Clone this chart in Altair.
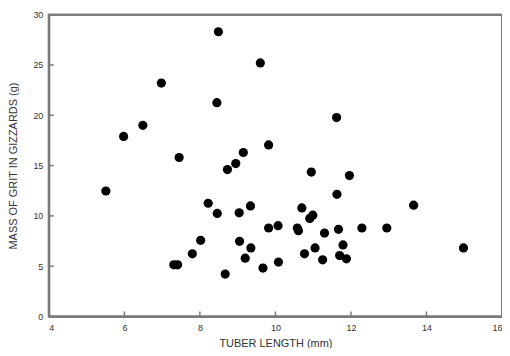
import altair as alt
import pandas as pd

tuber_length = [8.49, 6.98, 8.45, 5.98, 6.49, 7.45, 8.73, 8.95, 9.15, 9.60,
                11.62, 9.82, 10.95, 11.96, 5.51, 8.22, 8.46, 9.04, 9.34, 8.02,
                7.80, 7.31, 7.41, 8.67, 9.05, 9.35, 9.20, 11.63, 13.66, 10.70,
                10.99, 10.91, 9.82, 10.07, 10.58, 10.61, 11.30, 11.67, 12.29, 12.95,
                11.79, 11.05, 10.77, 11.70, 11.88, 11.25, 14.98, 9.67, 10.08]
grit_mass = [28.3, 23.2, 21.25, 17.9, 19.0, 15.8, 14.6, 15.2, 16.3, 25.2,
             19.77, 17.05, 14.35, 14.0, 12.47, 11.25, 10.24, 10.3, 10.99, 7.57,
             6.22, 5.13, 5.13, 4.21, 7.47, 6.81, 5.79, 12.14, 11.06, 10.79,
             10.07, 9.74, 8.79, 9.02, 8.79, 8.53, 8.29, 8.66, 8.79, 8.79,
             7.11, 6.81, 6.22, 6.05, 5.73, 5.63, 6.81, 4.81, 5.40]

x_ticks = [4, 6, 8, 10, 12, 14, 16]
y_ticks = [0, 5, 10, 15, 20, 25, 30]
frame_x = [4, 16]
frame_y = [0, 30]

df = pd.DataFrame({"x": tuber_length, "y": grit_mass})
xt = pd.DataFrame({"t": x_ticks})
yt = pd.DataFrame({"t": y_ticks})
fr = pd.DataFrame({"x1": [frame_x[0]], "x2": [frame_x[1]], "y1": [frame_y[0]], "y2": [frame_y[1]]})

FONT = "Liberation Sans"
GRAY = "#7a7a7a"

xscale = alt.Scale(domain=[4, 16], nice=False, zero=False)
yscale = alt.Scale(domain=[0, 30], nice=False)

frame = alt.Chart(fr).mark_rect(
    filled=False, stroke=GRAY, strokeWidth=2, strokeOpacity=1
).encode(
    x=alt.X("x1:Q", scale=xscale), x2="x2:Q",
    y=alt.Y("y1:Q", scale=yscale), y2="y2:Q",
)

points = alt.Chart(df).mark_circle(size=85, color="black", opacity=1).encode(
    x=alt.X("x:Q", scale=xscale,
            axis=alt.Axis(title="TUBER LENGTH (mm)", values=x_ticks, tickSize=0,
                          labelPadding=7, titlePadding=5)),
    y=alt.Y("y:Q", scale=yscale,
            axis=alt.Axis(title="MASS OF GRIT IN GIZZARDS (g)", values=y_ticks,
                          tickSize=0, labelPadding=6, titlePadding=14)),
)

xticks = alt.Chart(xt).mark_tick(color=GRAY, thickness=1.5, size=5, orient="vertical", opacity=1).encode(
    x=alt.X("t:Q", scale=xscale),
    y=alt.datum(0, scale=yscale),
    yOffset=alt.value(-2.5),
)

yticks = alt.Chart(yt).mark_tick(color=GRAY, thickness=1.5, size=5, orient="horizontal", opacity=1).encode(
    y=alt.Y("t:Q", scale=yscale),
    x=alt.datum(4, scale=xscale),
    xOffset=alt.value(2.5),
)

chart = alt.layer(frame, xticks, yticks, points).properties(
    width=455, height=303,
    autosize=alt.AutoSizeParams(type="none"),
    padding={"left": 41, "top": 6, "right": 0, "bottom": 31},
).configure_view(
    stroke=GRAY, strokeWidth=2
).configure_axis(
    domainColor=GRAY, domainWidth=2, grid=False,
    labelFont=FONT, labelFontSize=9, labelColor="#333333",
    titleFont=FONT, titleFontSize=11, titleFontWeight="normal", titleColor="#333333",
)

chart.save("out.html", embed_options={"renderer": "svg", "actions": False})
